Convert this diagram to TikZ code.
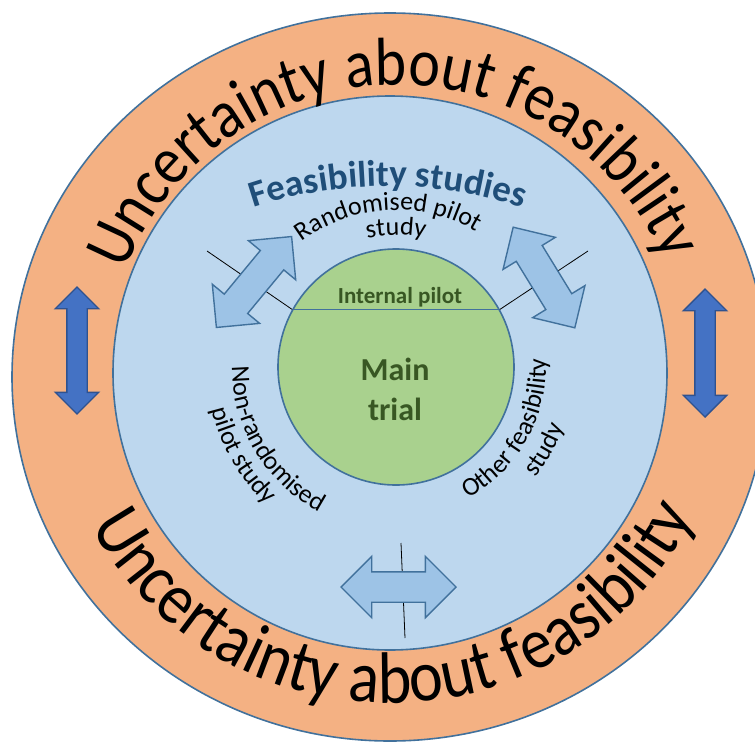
\documentclass[tikz,border=0pt]{standalone}
\usepackage{fontspec}
\setmainfont{Carlito}
\newfontfamily\ringfont[FakeStretch=0.88]{Carlito}
\usetikzlibrary{shapes.arrows,decorations.text}

\definecolor{ringorange}{HTML}{F4B183}
\definecolor{ringblue}{HTML}{BDD7EE}
\definecolor{coregreen}{HTML}{A9D18E}
\definecolor{edgeblue}{HTML}{41719C}
\definecolor{arrowlight}{HTML}{9DC3E6}
\definecolor{arrowdark}{HTML}{4472C4}
\definecolor{arrowdarkedge}{HTML}{2F528F}
\definecolor{titleblue}{HTML}{1F4E79}
\definecolor{coretext}{HTML}{385723}

\newcommand{\ringsize}{\ringfont\fontsize{68}{70}\selectfont}
\newcommand{\ringsizelow}{\ringfont\fontsize{73}{75}\selectfont}
\newcommand{\labelsize}{\fontsize{26}{30}\selectfont}

\begin{document}
\begin{tikzpicture}[x=1pt, y=1pt,
    ring/.style={draw=edgeblue, line width=1.6pt},
    cut/.style={black, line width=0.8pt},
    swaparrow/.style={double arrow, draw=edgeblue, fill=arrowlight,
      line width=1.4pt, inner xsep=0pt, inner ysep=14.5pt,
      double arrow head extend=15.5pt, minimum height=118pt},
    shiftarrow/.style={double arrow, draw=arrowdarkedge, fill=arrowdark,
      line width=1.4pt, inner xsep=0pt, inner ysep=9.5pt,
      double arrow head extend=11.5pt, minimum height=127pt, rotate=90},
    arctext/.style={decorate, decoration={text along path,
      text align=center, text={#1}}}]
  \useasboundingbox (0,0) rectangle (755,-747);

  % --- rings (1 unit = 1 pixel of the original) ---
  \draw[ring, fill=ringorange] (390,-377) ellipse[x radius=378pt, y radius=364pt];
  \draw[ring, fill=ringblue] (390,-373) circle[radius=277pt];
  \node[circle, ring, fill=coregreen, minimum size=236pt, inner sep=0pt] (core) at (396,-367) {};
  \draw[edgeblue, line width=1.4pt] (core.151) -- (core.29);

  % --- segment cuts, arrows sit on top of them ---
  \coordinate (cutW) at (207,-251);
  \coordinate (cutE) at (588,-251);
  \coordinate (cutSa) at (401,-543);
  \coordinate (cutSb) at (405,-638);
  \draw[cut] (core.151) -- (cutW);
  \draw[cut] (core.29) -- (cutE);
  \draw[cut] (cutSa) -- (cutSb);

  \node[swaparrow, rotate=50.4] (swapNW) at (254,-282) {};
  \node[swaparrow, rotate=-58.5] (swapNE) at (544,-277.5) {};
  \node[swaparrow, minimum height=115pt] (swapS) at (398.5,-587) {};
  \node[shiftarrow] (shiftW) at (77,-350.5) {};
  \node[shiftarrow, minimum height=128pt] (shiftE) at (705,-353) {};

  % --- ring text ---
  \path[arctext={|\ringsize|Uncertainty about feasibility}]
    (397,-377) ++(182:292pt) arc[start angle=182, end angle=0, radius=292pt];
  \path[arctext={|\ringsizelow|Uncertainty about feasibility}]
    (390,-377) ++(181:336pt) arc[start angle=181, end angle=361, x radius=336pt, y radius=326pt];
  \path[arctext={|\bfseries\fontsize{37}{40}\selectfont\color{titleblue}|Feasibility studies}]
    (388,-606) ++(115:420pt) arc[start angle=115, end angle=65, radius=420pt];

  % --- segment labels round the core ---
  \path[arctext={|\labelsize|Randomised pilot}]
    (396,-367) ++(180:157pt) arc[start angle=180, end angle=6, radius=157pt];
  \path[arctext={|\labelsize|study}]
    (396,-367) ++(170:132pt) arc[start angle=170, end angle=10, radius=132pt];
  \path[arctext={|\labelsize|Non-randomised}]
    (396,-367) ++(150:164pt) arc[start angle=150, end angle=272, radius=164pt];
  \path[arctext={|\labelsize|pilot study}]
    (396,-367) ++(148:189pt) arc[start angle=148, end angle=272, radius=189pt];
  \path[arctext={|\labelsize|Other feasibility}]
    (396,-367) ++(-89:150pt) arc[start angle=-89, end angle=31, radius=150pt];
  \path[arctext={|\labelsize|study}]
    (396,-367) ++(-89:178pt) arc[start angle=-89, end angle=31, radius=178pt];

  % --- core text ---
  \node[font=\bfseries\fontsize{23}{26}\selectfont, text=coretext, anchor=base]
    (pilot) at (400,-303) {Internal pilot};
  \node[font=\bfseries\fontsize{32}{40}\selectfont, text=coretext, align=center]
    (main) at (395,-389.5) {Main\\trial};
\end{tikzpicture}
\end{document}
